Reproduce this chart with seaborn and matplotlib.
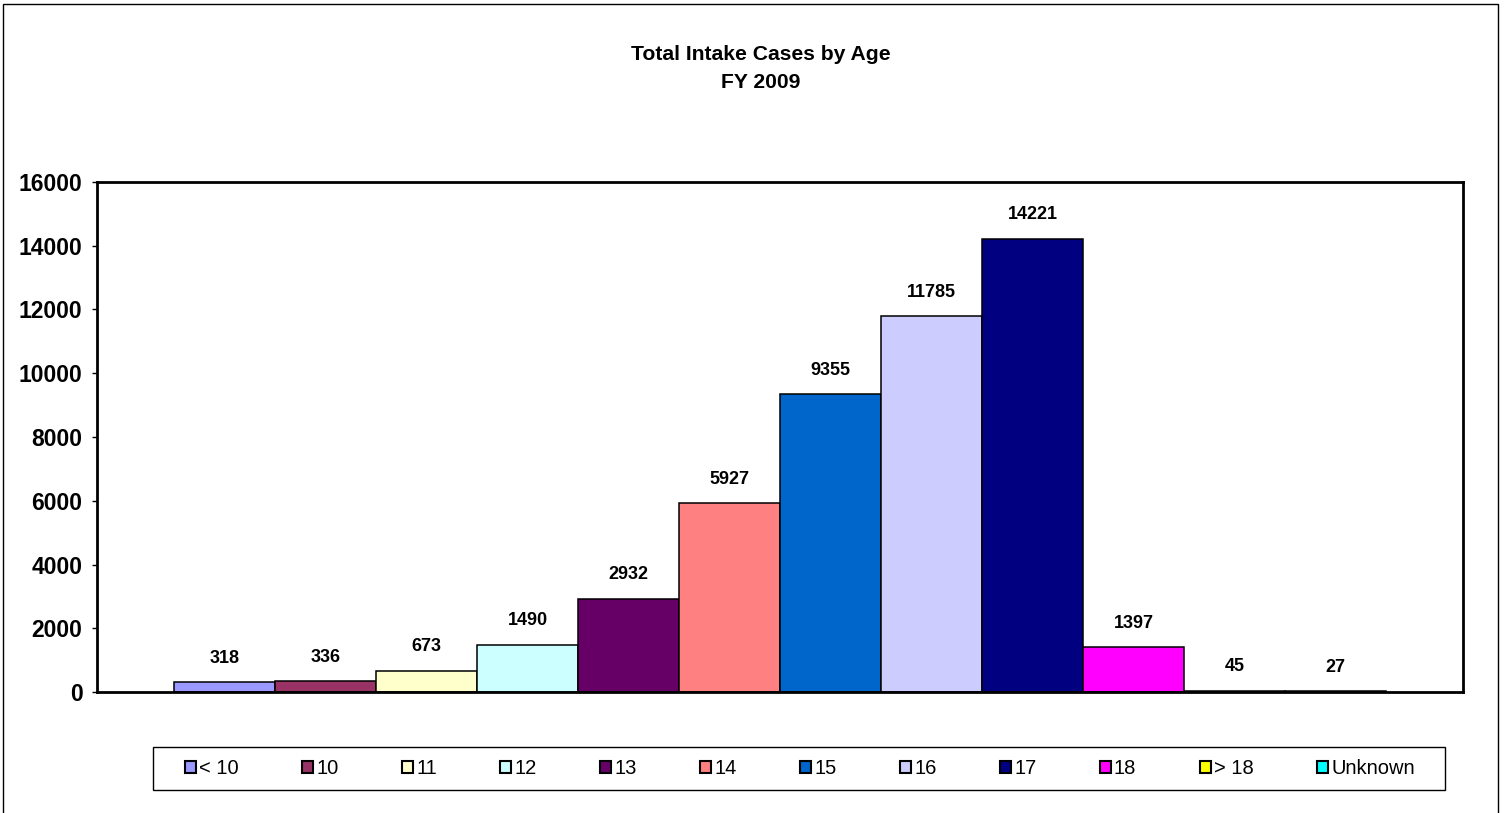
import matplotlib
matplotlib.use('Agg')
import matplotlib.pyplot as plt
import matplotlib.patches as mpatches
import pandas as pd
import seaborn as sns

ages = ['< 10', '10', '11', '12', '13', '14', '15', '16', '17', '18', '> 18', 'Unknown']
cases = [318, 336, 673, 1490, 2932, 5927, 9355, 11785, 14221, 1397, 45, 27]
colors = ['#9999FF', '#993366', '#FFFFCC', '#CCFFFF', '#660066', '#FF8080',
          '#0066CC', '#CCCCFF', '#000080', '#FF00FF', '#FFFF00', '#00FFFF']

df = pd.DataFrame({'group': ['FY 2009'] * len(ages), 'age': ages, 'cases': cases})

sns.set_style('white')
plt.rcParams['font.family'] = ['Liberation Sans', 'DejaVu Sans']
plt.rcParams['text.color'] = 'black'
plt.rcParams['ytick.color'] = 'black'
plt.rcParams['ytick.labelcolor'] = 'black'

W, H = 1507, 813
fig = plt.figure(figsize=(W / 100, H / 100), dpi=100)
ax = fig.add_axes([97 / W, 1 - 692 / H, (1463 - 97) / W, (692 - 182) / H])

sns.barplot(data=df, x='group', y='cases', hue='age', hue_order=ages,
            palette=colors, saturation=1, width=1212 / 1366, gap=0, ax=ax,
            edgecolor='black', linewidth=1.1, legend=True)

for cont in ax.containers:
    ax.bar_label(cont, fmt='%d', padding=11, fontsize=13, fontweight='bold',
                 color='black')

ax.set_xlim(-0.5, 0.5)
ax.set_ylim(0, 16000)
ax.set_yticks(range(0, 16001, 2000))
ax.set_xticks([])
ax.set_xlabel('')
ax.set_ylabel('')
for lab in ax.get_yticklabels():
    lab.set_fontweight('bold')
ax.tick_params(axis='y', left=True, length=3.5, width=1, labelsize=16.5, pad=7)
for sp in ax.spines.values():
    sp.set_visible(True)
    sp.set_color('black')
    sp.set_linewidth(2)

handles, labels = ax.get_legend_handles_labels()
ax.get_legend().remove()
for h in handles:
    h.set_linewidth(1.5)
    h.set_edgecolor('black')

# legend box drawn separately; entries centred inside it
fig.patches.append(mpatches.Rectangle((153 / W, 1 - 790 / H), (1445 - 153) / W, 43 / H,
                                      transform=fig.transFigure, fill=False,
                                      edgecolor='black', linewidth=1))
fs = 14.5
em = fs * 100 / 72
leg = fig.legend(handles, labels, ncol=12, loc='center',
                 bbox_to_anchor=(800 / W, 1 - 768.5 / H),
                 frameon=False, fontsize=fs, handlelength=11 / em,
                 handleheight=11 / em, handletextpad=3 / em,
                 columnspacing=63.6 / em, borderpad=0, borderaxespad=0)

fig.text(761 / W, 1 - 55 / H, 'Total Intake Cases by Age', ha='center', va='center',
         fontsize=15.2, fontweight='bold')
fig.text(761 / W, 1 - 82 / H, 'FY 2009', ha='center', va='center',
         fontsize=15.2, fontweight='bold')

fig.patches.append(mpatches.Rectangle((3 / W, -0.05), (1498 - 3) / W, 1.05 - 4 / H,
                                      transform=fig.transFigure, fill=False,
                                      edgecolor='black', linewidth=1))

fig.savefig('out.png', dpi=100)
